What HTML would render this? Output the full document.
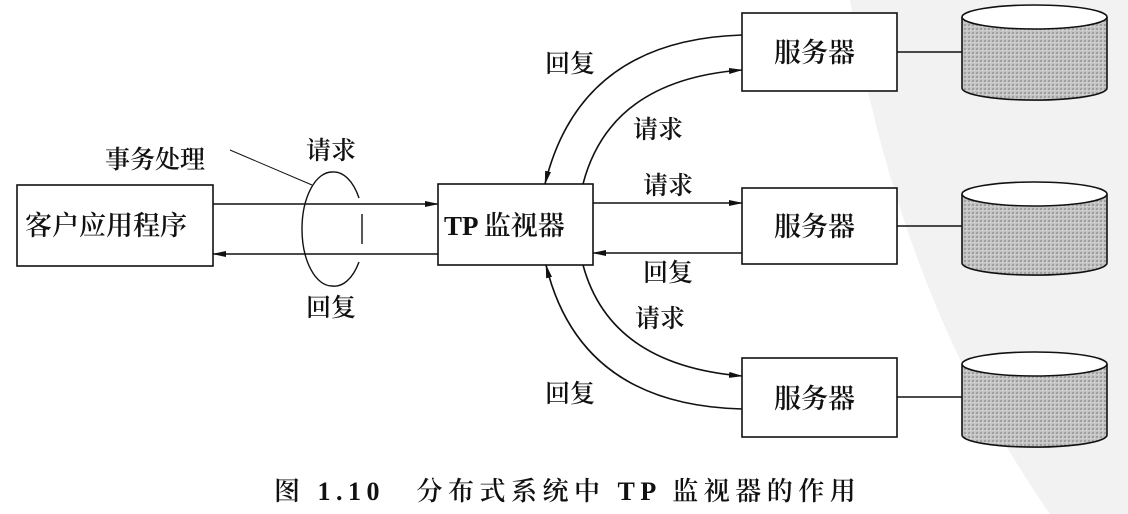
<!DOCTYPE html>
<html><head><meta charset="utf-8"><style>
html,body{margin:0;padding:0;background:#fff;}
svg{display:block;}
text{font-family:"Liberation Serif","Noto Serif CJK SC","Noto Sans CJK SC",serif;fill:#111;font-weight:600;}
</style></head><body>
<svg width="1128" height="514" viewBox="0 0 1128 514" xmlns="http://www.w3.org/2000/svg">
<defs>
<marker id="ar" markerWidth="14" markerHeight="8" refX="13" refY="4" orient="auto" markerUnits="userSpaceOnUse">
<path d="M0,1 L14,4 L0,7 Z" fill="#111"/></marker>
<pattern id="dots" width="4" height="4" patternUnits="userSpaceOnUse">
<rect width="4" height="4" fill="#c4c4c4"/><rect width="2" height="2" fill="#a0a0a0"/><rect x="2" y="2" width="1" height="1" fill="#e4e4e4"/></pattern>
</defs>
<path d="M850,0 L1128,0 L1128,514 L1050,514 Q900,300 850,0 Z" fill="#f2f2f2"/>
<g stroke="#111" stroke-width="1.6" fill="none">
<rect x="17" y="185" width="196" height="81" fill="#fff"/>
<rect x="438" y="184" width="155" height="81" fill="#fff"/>
<rect x="742" y="13" width="155" height="78" fill="#fff"/>
<rect x="742" y="188" width="155" height="76" fill="#fff"/>
<rect x="742" y="358" width="155" height="79" fill="#fff"/>
<line x1="213" y1="204" x2="438" y2="204" marker-end="url(#ar)"/>
<line x1="438" y1="254" x2="213" y2="254" marker-end="url(#ar)"/>
<path d="M332,172 A30,57 0 0,0 332,286" stroke-width="1.4"/>
<path d="M332,172 A30,57 0 0,1 359,198" stroke-width="1.4"/>
<path d="M362,214 L362,244" stroke-width="1.4"/>
<path d="M359,262 A30,57 0 0,1 332,286" stroke-width="1.4"/>
<line x1="230" y1="150" x2="312" y2="185" stroke-width="1"/>
<line x1="593" y1="203" x2="742" y2="203" marker-end="url(#ar)"/>
<line x1="742" y1="253" x2="593" y2="253" marker-end="url(#ar)"/>
<path d="M742,35 Q580,40 545,184" marker-end="url(#ar)"/>
<path d="M583,184 Q610,80 742,70" marker-end="url(#ar)"/>
<path d="M583,265 Q610,365 742,376" marker-end="url(#ar)"/>
<path d="M742,409 Q580,405 546,265" marker-end="url(#ar)"/>
<line x1="897" y1="52" x2="962" y2="52"/>
<line x1="897" y1="226" x2="962" y2="226"/>
<line x1="897" y1="397" x2="962" y2="397"/>
<g fill="url(#dots)">
<path d="M962,17 L962,88 A72,12 0 0,0 1107,88 L1107,17"/>
<ellipse cx="1034.5" cy="17" rx="72.5" ry="12" fill="#fff"/>
<path d="M962,194 L962,263 A72,12 0 0,0 1107,263 L1107,194"/>
<ellipse cx="1034.5" cy="194" rx="72.5" ry="12" fill="#fff"/>
<path d="M962,364 L962,435 A72,12 0 0,0 1107,435 L1107,364"/>
<ellipse cx="1034.5" cy="364" rx="72.5" ry="12" fill="#fff"/>
</g>
</g>
<g font-size="25">
<text x="105" y="168">事务处理</text>
<text x="306" y="159">请求</text>
<text x="306" y="316">回复</text>
<text x="25" y="235" font-size="27">客户应用程序</text>
<text x="444" y="235" font-size="27">TP 监视器</text>
<text x="774" y="62" font-size="27">服务器</text>
<text x="774" y="236" font-size="27">服务器</text>
<text x="774" y="408" font-size="27">服务器</text>
<text x="545" y="72">回复</text>
<text x="633" y="138">请求</text>
<text x="643" y="194">请求</text>
<text x="643" y="281">回复</text>
<text x="635" y="327">请求</text>
<text x="545" y="402">回复</text>
</g>
<text x="274" y="500" font-size="26" letter-spacing="5.5">图 1.10　分布式系统中 TP 监视器的作用</text>
</svg>
</body></html>
